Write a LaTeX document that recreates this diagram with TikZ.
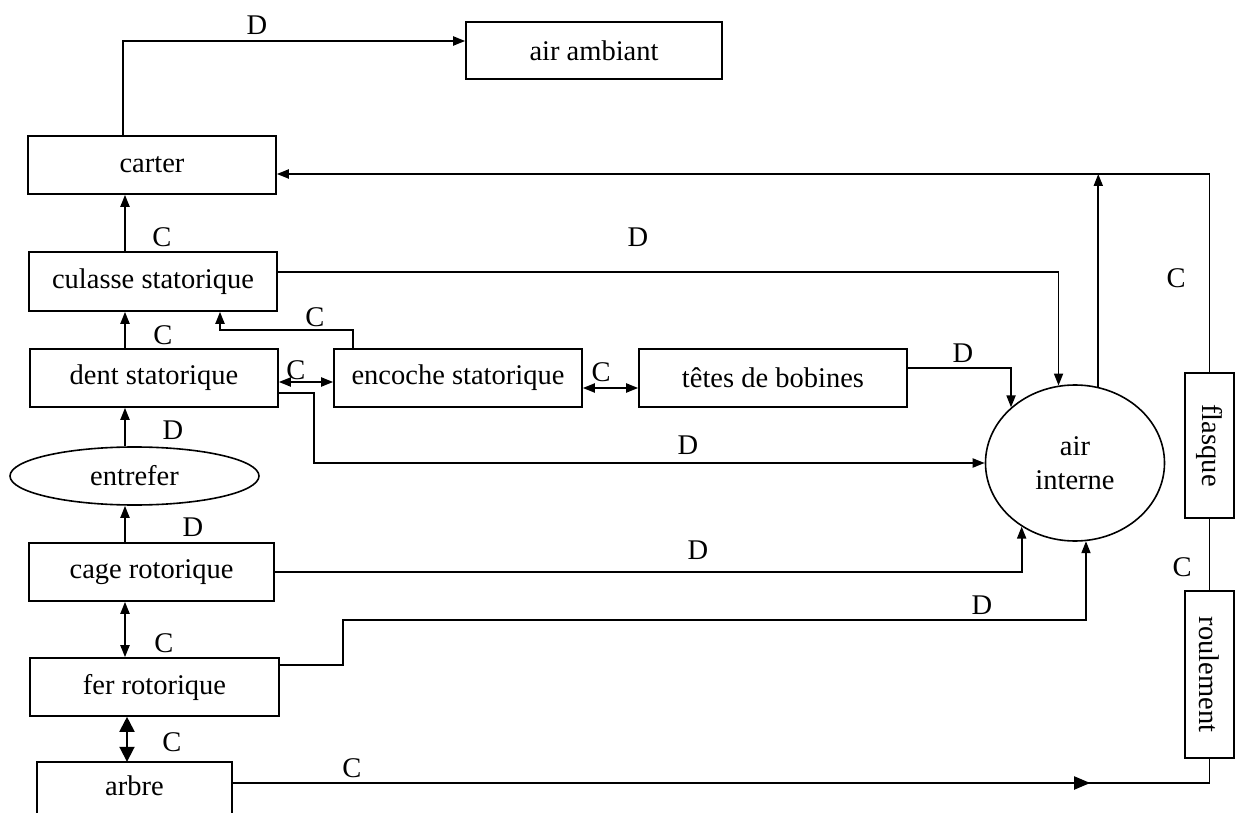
\documentclass[tikz,border=0pt]{standalone}
\usepackage{fontspec}
\setmainfont{Liberation Serif}
\usetikzlibrary{arrows.meta,shapes.geometric,decorations.markings}
\begin{document}
\begin{tikzpicture}[x=1pt,y=-1pt,
  every node/.style={font=\fontsize{28.5}{34}\selectfont},
  box/.style={draw,line width=1.6pt,inner sep=0pt},
  lbl/.style={inner sep=0pt},
  conn/.style={line width=1.9pt},
  arr/.style={conn,-{Triangle[length=12pt,width=9pt]}},
  darr/.style={conn,{Triangle[length=12pt,width=9pt]}-{Triangle[length=12pt,width=9pt]}},
  bigdarr/.style={conn,{Triangle[length=15pt,width=15pt]}-{Triangle[length=15pt,width=15pt]}},
]
\useasboundingbox (0,0) rectangle (1235,813);

% nodes
\node[box,minimum width=256pt,minimum height=57pt] (amb) at (594,50.5) {air ambiant};
\node[box,minimum width=248pt,minimum height=58pt] (carter) at (152,165) {carter};
\node[box,minimum width=248pt,minimum height=59pt] (culasse) at (153,281.5) {culasse statorique};
\node[box,minimum width=248pt,minimum height=58pt] (dent) at (154,378) {dent statorique};
\node[box,minimum width=248pt,minimum height=58pt] (encoche) at (458,378) {encoche statorique};
\node[box,minimum width=268pt,minimum height=58pt] (tetes) at (773,378) {têtes de bobines};
\node[box,shape=ellipse,minimum width=249pt,minimum height=58pt] (entrefer) at (134.5,476) {entrefer};
\node[box,minimum width=245pt,minimum height=58pt] (cage) at (151.5,572) {cage rotorique};
\node[box,minimum width=249pt,minimum height=58pt] (fer) at (154.5,687) {fer rotorique};
\node[inner sep=0pt,minimum width=195pt,minimum height=51pt] (arbre) at (134.5,787.5) {\raisebox{4pt}{arbre}};
\draw[line width=1.6pt] (arbre.south west) -- (arbre.north west) -- (arbre.north east) -- (arbre.south east);
\node[box,shape=ellipse,minimum width=179pt,minimum height=156pt,align=center] (air) at (1075,463) {air\\interne};
\node[box,minimum width=49pt,minimum height=145pt] (flasque) at (1209.5,445.5) {\rotatebox{-90}{flasque}};
\node[box,minimum width=49pt,minimum height=167pt] (roulement) at (1209.5,674.5) {\rotatebox{-90}{roulement}};

% connectors
\draw[arr] ([xshift=-29pt]carter.north) |- ([yshift=9.5pt]amb.west);
\draw[arr] ([xshift=-28pt]culasse.north) -- ([xshift=-28pt]culasse.north |- carter.south);
\draw[arr] ([xshift=-29pt]dent.north) -- ([xshift=-29pt]dent.north |- culasse.south);
\draw[arr] ([xshift=-9.5pt]entrefer.north) -- ([xshift=-9.5pt]entrefer.north |- dent.south);
\draw[arr] ([xshift=-26.5pt]cage.north) -- ([xshift=-26.5pt]cage.north |- entrefer.south);
\draw[darr] ([xshift=-26.5pt]cage.south) -- ([xshift=-26.5pt]cage.south |- fer.north);
\draw[bigdarr] ([xshift=-27.5pt]fer.south) -- ([xshift=-27.5pt]fer.south |- arbre.north);
\draw[arr] ([xshift=-105pt]encoche.north) -- ++(0,-18) -| ([xshift=67pt]culasse.south);
\draw[darr] ([yshift=-4pt]dent.east) -- ([yshift=-4pt]encoche.west);
\draw[darr] ([yshift=-10pt]encoche.east) -- ([yshift=-10pt]tetes.west);
\draw[arr] ([yshift=-15pt]dent.east) -- ++(35,0) |- (air.west);
\draw[arr] ([yshift=9.5pt]culasse.east) -| (air.102);
\draw[arr] ([yshift=10pt]tetes.east) -| (air.139);
\coordinate (airup) at ([yshift=-9pt]carter.east -| air.73);
\draw[arr] (air.73) -- (airup);
\draw[arr] (flasque.north) |- ([yshift=-9pt]carter.east);
\draw[conn] (flasque.south) -- (roulement.north);
\draw[arr] (cage.east) -| (air.230);
\coordinate (ferk) at (343,620);
\draw[arr] ([yshift=22pt]fer.east) -| (ferk) -| (air.278);
\draw[conn,postaction={decorate},decoration={markings,mark=at position 858pt with {\arrow{Triangle[length=16pt,width=13pt]}}}]
  ([yshift=4.5pt]arbre.east) -| (roulement.south);

% labels
\node[lbl] at (257,25) {D};
\node[lbl] at (162,237) {C};
\node[lbl] at (163,335) {C};
\node[lbl] at (173,430) {D};
\node[lbl] at (193,527) {D};
\node[lbl] at (164,643) {C};
\node[lbl] at (172,742) {C};
\node[lbl] at (315,317) {C};
\node[lbl] at (296,370) {C};
\node[lbl] at (601,372) {C};
\node[lbl] at (638,237) {D};
\node[lbl] at (688,445) {D};
\node[lbl] at (963,353) {D};
\node[lbl] at (1176,278) {C};
\node[lbl] at (1182,567) {C};
\node[lbl] at (698,550) {D};
\node[lbl] at (982,605) {D};
\node[lbl] at (352,768) {C};
\end{tikzpicture}
\end{document}
